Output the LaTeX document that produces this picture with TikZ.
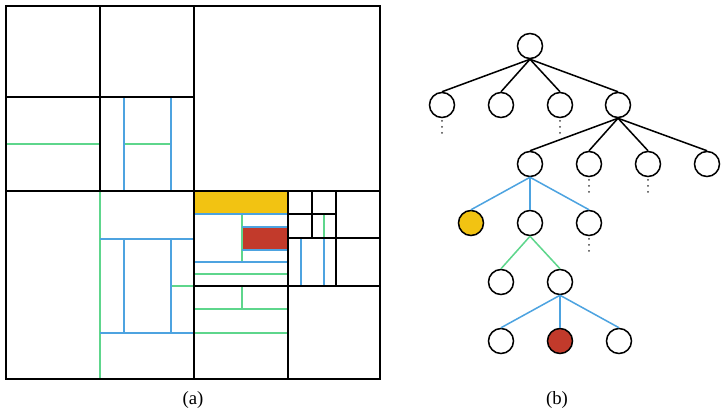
\documentclass[tikz,border=0pt]{standalone}
\usepackage{fontspec}
\setmainfont{Liberation Serif}
\usetikzlibrary{positioning}
\usepackage{xcolor}
\definecolor{splitgreen}{HTML}{5ED68C}
\definecolor{splitblue}{HTML}{4DA3E0}
\definecolor{hityellow}{HTML}{F2C312}
\definecolor{hitred}{HTML}{C23A2B}

\tikzset{
  cellline/.style={black, line width=1.4pt},
  greenline/.style={splitgreen, line width=1.3pt},
  blueline/.style={splitblue, line width=1.3pt},
  treenode/.style={circle, draw, line width=1.3pt, minimum size=0.75cm, inner sep=0pt, fill=white},
  treeedge/.style={line width=1.3pt},
  moredots/.style={black!75, line width=1.7pt, line cap=round, dash pattern=on 0pt off 5.1pt}
}

\begin{document}
\begin{tikzpicture}[x=0.03cm, y=-0.03cm]
      \useasboundingbox (0,0) rectangle (727,417);
      % filled cells
      \fill[hityellow] (194,191) rectangle (288,214);
      \fill[hitred] (242,227) rectangle (288,250);
      % green splits
      \draw[greenline] (7,144) -- (100,144);
      \draw[greenline] (124,144) -- (171,144);
      \draw[greenline] (100,191) -- (100,379);
      \draw[greenline] (171,286) -- (194,286);
      \draw[greenline] (242,214) -- (242,262);
      \draw[greenline] (194,274) -- (288,274);
      \draw[greenline] (242,286) -- (242,309);
      \draw[greenline] (194,309) -- (288,309);
      \draw[greenline] (194,333) -- (288,333);
      \draw[greenline] (324,214) -- (324,238);
      % blue splits
      \draw[blueline] (124,97) -- (124,191);
      \draw[blueline] (171,97) -- (171,191);
      \draw[blueline] (100,239) -- (194,239);
      \draw[blueline] (100,333) -- (194,333);
      \draw[blueline] (124,239) -- (124,333);
      \draw[blueline] (171,239) -- (171,333);
      \draw[blueline] (194,214) -- (288,214);
      \draw[blueline] (242,227) -- (288,227);
      \draw[blueline] (242,250) -- (288,250);
      \draw[blueline] (194,262) -- (288,262);
      \draw[blueline] (301,238) -- (301,286);
      \draw[blueline] (324,238) -- (324,286);
      % quadtree cells
      \draw[cellline] (100,6) -- (100,191);
      \draw[cellline] (6,97) -- (194,97);
      \draw[cellline] (194,6) -- (194,379);
      \draw[cellline] (6,191) -- (380,191);
      \draw[cellline] (288,191) -- (288,379);
      \draw[cellline] (194,286) -- (380,286);
      \draw[cellline] (336,191) -- (336,286);
      \draw[cellline] (288,238) -- (380,238);
      \draw[cellline] (312,191) -- (312,238);
      \draw[cellline] (288,214) -- (336,214);
      \draw[line width=2.2pt] (6,6) rectangle (380,379);

      % tree
      \node[treenode] (root) at (530,46) {};
      \node[treenode] (a1) at (442,105) {};
      \node[treenode] (a2) at (501,105) {};
      \node[treenode] (a3) at (560,105) {};
      \node[treenode] (a4) at (618,105) {};
      \node[treenode] (b1) at (530,164) {};
      \node[treenode] (b2) at (589,164) {};
      \node[treenode] (b3) at (648,164) {};
      \node[treenode] (b4) at (707,164) {};
      \node[treenode, fill=hityellow] (c1) at (471,223) {};
      \node[treenode] (c2) at (530,223) {};
      \node[treenode] (c3) at (589,223) {};
      \node[treenode] (d1) at (501,282) {};
      \node[treenode] (d2) at (560,282) {};
      \node[treenode] (e1) at (501,341) {};
      \node[treenode, fill=hitred] (e2) at (560,341) {};
      \node[treenode] (e3) at (619,341) {};

      \foreach \n in {a1,a2,a3,a4}
        \draw[treeedge] (root.south) -- (\n.north);
      \foreach \n in {b1,b2,b3,b4}
        \draw[treeedge] (a4.south) -- (\n.north);
      \foreach \n in {c1,c2,c3}
        \draw[treeedge, splitblue] (b1.south) -- (\n.north);
      \foreach \n in {d1,d2}
        \draw[treeedge, splitgreen] (c2.south) -- (\n.north);
      \foreach \n in {e1,e2,e3}
        \draw[treeedge, splitblue] (d2.south) -- (\n.north);

      % unexpanded subtrees
      \foreach \n in {a1,a3,b2,b3,c3}
        \draw[moredots] ([yshift=-2.2pt]\n.south) -- ++(0,12.5);

      % captions
      \node[font=\fontsize{16}{18}\selectfont] (capa) at (193,400) {(a)};
      \node[font=\fontsize{16}{18}\selectfont] (capb) at (557,400) {(b)};
    \end{tikzpicture}
\end{document}
